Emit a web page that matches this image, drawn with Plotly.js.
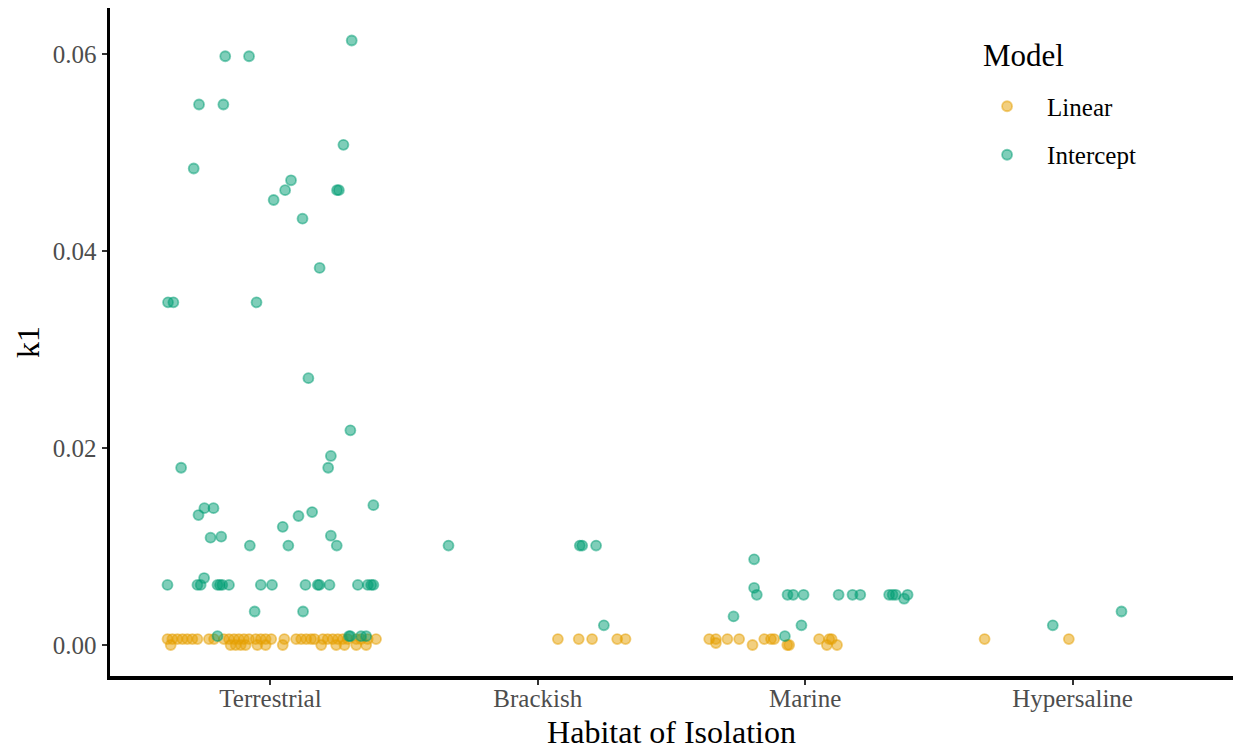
<!DOCTYPE html>
<html>
<head>
<meta charset="utf-8">
<script src="https://cdn.plot.ly/plotly-3.0.1.min.js"></script>
<style>
  html, body { margin: 0; padding: 0; background: #ffffff; }
  #chart { width: 1238px; height: 751px; }
</style>
</head>
<body>
<div id="chart"></div>
<script>
// Habitat categories along the x axis
const habitats = ['Terrestrial', 'Brackish', 'Marine', 'Hypersaline'];

// Linear model: habitat, horizontal jitter within the category, k1 estimate
const linearHabitat = [
  'Terrestrial','Terrestrial','Terrestrial','Terrestrial','Terrestrial','Terrestrial','Terrestrial',
  'Terrestrial','Terrestrial','Terrestrial','Terrestrial','Terrestrial','Terrestrial','Terrestrial',
  'Terrestrial','Terrestrial','Terrestrial','Terrestrial','Terrestrial','Terrestrial','Terrestrial',
  'Terrestrial','Terrestrial','Terrestrial','Terrestrial','Terrestrial','Terrestrial','Terrestrial',
  'Terrestrial','Terrestrial','Terrestrial','Terrestrial','Terrestrial','Terrestrial','Terrestrial',
  'Terrestrial','Terrestrial','Terrestrial','Terrestrial','Terrestrial','Terrestrial','Terrestrial',
  'Terrestrial','Terrestrial','Terrestrial','Terrestrial','Terrestrial','Terrestrial',
  'Brackish','Brackish','Brackish','Brackish','Brackish',
  'Marine','Marine','Marine','Marine','Marine','Marine','Marine','Marine','Marine','Marine',
  'Marine','Marine','Marine','Marine','Marine','Marine',
  'Hypersaline','Hypersaline'
];
const linearJitter = [
  -0.385,-0.367,-0.348,-0.329,-0.311,-0.292,-0.273,
  -0.230,-0.211,-0.174,-0.155,-0.136,-0.118,-0.099,
  -0.080,-0.055,-0.036,-0.018,0.003,0.052,0.096,
  0.115,0.134,0.152,0.165,0.196,0.214,0.233,
  0.252,0.271,0.289,0.321,0.339,0.364,0.395,
  -0.373,-0.149,-0.130,-0.111,-0.093,-0.049,-0.018,
  0.046,0.190,0.246,0.277,0.321,0.358,
  0.075,0.153,0.203,0.297,0.328,
  -0.359,-0.334,-0.291,-0.247,-0.153,-0.128,-0.116,0.052,0.090,0.099,
  -0.334,-0.197,-0.067,-0.060,0.081,0.119,
  -0.329,-0.014
];
const linearK1 = [
  0.0006,0.0006,0.0006,0.0006,0.0006,0.0006,0.0006,
  0.0006,0.0006,0.0006,0.0006,0.0006,0.0006,0.0006,
  0.0006,0.0006,0.0006,0.0006,0.0006,0.0006,0.0006,
  0.0006,0.0006,0.0006,0.0006,0.0006,0.0006,0.0006,
  0.0006,0.0006,0.0006,0.0006,0.0006,0.0006,0.0006,
  0.0000,0.0000,0.0000,0.0000,0.0000,0.0000,0.0000,
  0.0000,0.0000,0.0000,0.0000,0.0000,0.0000,
  0.0006,0.0006,0.0006,0.0006,0.0006,
  0.0006,0.0006,0.0006,0.0006,0.0006,0.0006,0.0006,0.0006,0.0006,0.0006,
  0.0002,0.0000,0.0000,0.0000,0.0000,0.0000,
  0.0006,0.0006
];

// Intercept model: habitat, horizontal jitter within the category, k1 estimate
const interceptHabitat = [
  'Terrestrial','Terrestrial','Terrestrial','Terrestrial','Terrestrial','Terrestrial','Terrestrial',
  'Terrestrial','Terrestrial','Terrestrial','Terrestrial','Terrestrial','Terrestrial','Terrestrial',
  'Terrestrial','Terrestrial','Terrestrial','Terrestrial','Terrestrial','Terrestrial','Terrestrial',
  'Terrestrial','Terrestrial','Terrestrial','Terrestrial','Terrestrial','Terrestrial','Terrestrial',
  'Terrestrial','Terrestrial','Terrestrial','Terrestrial','Terrestrial','Terrestrial','Terrestrial',
  'Terrestrial','Terrestrial','Terrestrial','Terrestrial','Terrestrial','Terrestrial','Terrestrial',
  'Terrestrial','Terrestrial','Terrestrial','Terrestrial','Terrestrial','Terrestrial','Terrestrial',
  'Terrestrial','Terrestrial','Terrestrial','Terrestrial','Terrestrial','Terrestrial','Terrestrial',
  'Terrestrial','Terrestrial','Terrestrial','Terrestrial',
  'Brackish','Brackish','Brackish','Brackish','Brackish',
  'Marine','Marine','Marine','Marine','Marine','Marine','Marine','Marine','Marine',
  'Marine','Marine','Marine','Marine','Marine','Marine','Marine','Marine',
  'Hypersaline','Hypersaline'
];
const interceptJitter = [
  0.304,-0.169,-0.080,-0.267,-0.176,0.273,-0.287,
  0.077,0.249,0.256,0.055,0.012,0.120,0.184,
  -0.383,-0.363,-0.052,0.142,0.299,0.226,0.216,
  -0.334,0.385,-0.247,-0.213,-0.269,0.156,0.105,
  0.046,-0.224,-0.184,0.226,-0.077,0.067,0.248,
  -0.385,-0.273,-0.261,-0.198,-0.189,-0.180,-0.155,
  -0.036,0.006,0.131,0.177,0.183,0.221,0.327,
  0.364,0.377,0.385,-0.248,-0.059,0.122,-0.198,
  0.294,0.299,0.339,0.358,
  -0.334,0.157,0.166,0.218,0.247,
  -0.191,-0.191,-0.181,-0.066,-0.045,-0.006,0.125,0.177,0.206,
  0.314,0.327,0.339,0.383,0.370,-0.268,-0.014,-0.076,
  -0.074,0.183
];
const interceptK1 = [
  0.0614,0.0598,0.0598,0.0549,0.0549,0.0508,0.0484,
  0.0472,0.0462,0.0462,0.0462,0.0452,0.0433,0.0383,
  0.0348,0.0348,0.0348,0.0271,0.0218,0.0192,0.0180,
  0.0180,0.0142,0.0139,0.0139,0.0132,0.0135,0.0131,
  0.0120,0.0109,0.0110,0.0111,0.0101,0.0101,0.0101,
  0.0061,0.0061,0.0061,0.0061,0.0061,0.0061,0.0061,
  0.0061,0.0061,0.0061,0.0061,0.0061,0.0061,0.0061,
  0.0061,0.0061,0.0061,0.0068,0.0034,0.0034,0.0009,
  0.0009,0.0009,0.0009,0.0009,
  0.0101,0.0101,0.0101,0.0101,0.0020,
  0.0087,0.0058,0.0051,0.0051,0.0051,0.0051,0.0051,0.0051,0.0051,
  0.0051,0.0051,0.0051,0.0051,0.0047,0.0029,0.0020,0.0009,
  0.0020,0.0034
];

// Category position (1-based) plus jitter
function positions(hab, jit) {
  return hab.map((h, i) => habitats.indexOf(h) + 1 + jit[i]);
}

const serif = 'Liberation Serif, Times New Roman, serif';

function pointStyle(rgb) {
  return {
    size: 10,
    color: 'rgba(' + rgb + ',0.5)',
    line: { width: 1.8, color: 'rgba(' + rgb + ',0.5)' }
  };
}

const traces = [
  {
    type: 'scatter', mode: 'markers', name: 'Linear', legendgroup: 'lin',
    x: positions(linearHabitat, linearJitter), y: linearK1,
    marker: pointStyle('230,159,0'), hoverinfo: 'y'
  },
  {
    type: 'scatter', mode: 'markers', name: 'Intercept', legendgroup: 'int',
    x: positions(interceptHabitat, interceptJitter), y: interceptK1,
    marker: pointStyle('0,158,115'), hoverinfo: 'y'
  }
];

const layout = {
  width: 1238, height: 751,
  margin: { l: 110, r: 5, t: 8, b: 75 },
  paper_bgcolor: '#ffffff', plot_bgcolor: '#ffffff',
  font: { family: serif, color: '#000000' },
  xaxis: {
    range: [0.4, 4.6],
    tickvals: [1, 2, 3, 4], ticktext: habitats,
    showgrid: false, zeroline: false,
    showline: true, linecolor: '#000000', linewidth: 3.5,
    ticks: 'outside', ticklen: 5, tickwidth: 2, tickcolor: '#333333',
    ticklabelstandoff: -8,
    tickfont: { family: serif, size: 25, color: '#4d4d4d' },
    title: { text: 'Habitat of Isolation', font: { family: serif, size: 32, color: '#000000' }, standoff: 11 }
  },
  yaxis: {
    range: [-0.00315, 0.0647],
    tickvals: [0, 0.02, 0.04, 0.06], ticktext: ['0.00', '0.02', '0.04', '0.06'],
    showgrid: false, zeroline: false,
    showline: true, linecolor: '#000000', linewidth: 3.5,
    ticks: 'outside', ticklen: 5, tickwidth: 2, tickcolor: '#333333',
    tickfont: { family: serif, size: 25, color: '#4d4d4d' },
    title: { text: 'k1', font: { family: serif, size: 32, color: '#000000' }, standoff: 4 }
  },
  showlegend: true,
  legend: {
    x: 0.7632, xanchor: 'left', y: 0.887, yanchor: 'top',
    bgcolor: 'rgba(0,0,0,0)',
    font: { family: serif, size: 25, color: '#000000' },
    itemwidth: 70,
    tracegroupgap: 13,
    itemclick: false, itemdoubleclick: false
  },
  annotations: [{
    text: 'Model', xref: 'paper', yref: 'paper',
    x: 0.776, y: 0.9296, xanchor: 'left', yanchor: 'middle',
    showarrow: false,
    font: { family: serif, size: 31, color: '#000000' }
  }]
};

Plotly.newPlot('chart', traces, layout, { displayModeBar: false, staticPlot: true });
</script>
</body>
</html>
